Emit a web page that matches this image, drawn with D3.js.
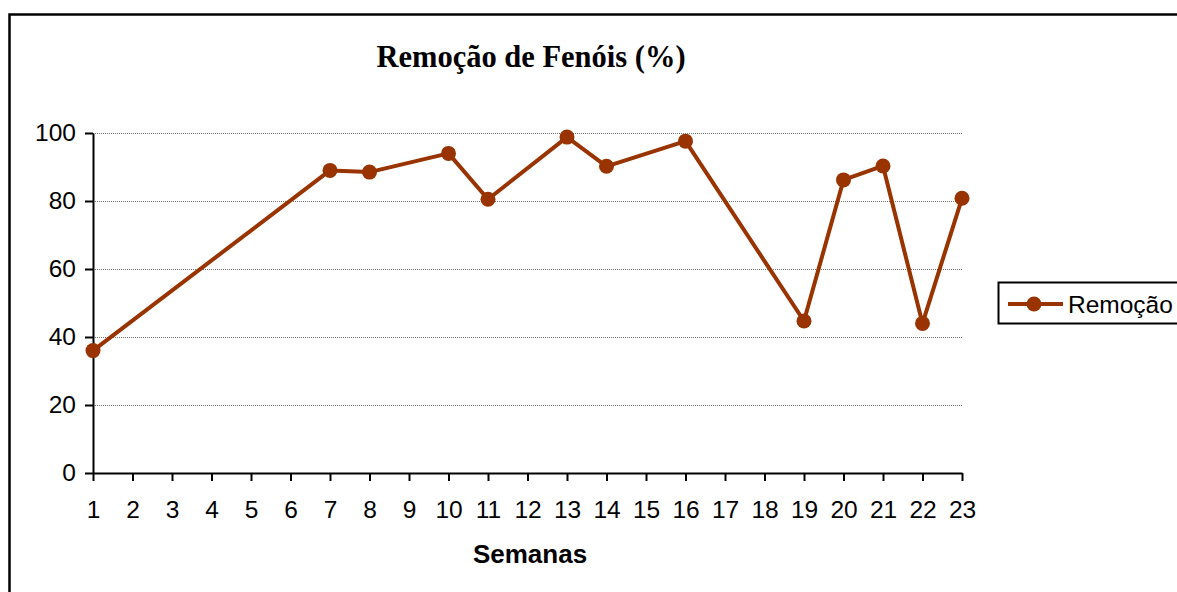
<!DOCTYPE html>
<html>
<head>
<meta charset="utf-8">
<script src="https://cdn.jsdelivr.net/npm/d3@7"></script>
<style>
  html, body { margin: 0; padding: 0; background: #fff; overflow: hidden; }
</style>
</head>
<body>
<div id="chart"></div>
<script>
// data
const weeks = d3.range(1, 24);
const semanas = [1, 7, 8, 10, 11, 13, 14, 16, 19, 20, 21, 22, 23];
const remocao = [36, 89, 88.5, 94, 80.5, 98.8, 90.2, 97.6, 44.7, 86.2, 90.3, 44, 80.8];
const yTicks = [0, 20, 40, 60, 80, 100];

const width = 1177;
const height = 592;
const plot = { left: 93, right: 962, top: 133, bottom: 473 };
const lineColor = "#993300";
const sans = "Liberation Sans, Arial, sans-serif";

const svg = d3.select("#chart").append("svg")
  .attr("width", width)
  .attr("height", height);

// outer chart border (runs off right and bottom)
svg.append("rect")
  .attr("x", 9.5).attr("y", 14.5)
  .attr("width", width + 20).attr("height", height + 20)
  .attr("fill", "none").attr("stroke", "#000").attr("stroke-width", 2.5);

const x = d3.scalePoint(weeks, [plot.left, plot.right]);
const y = d3.scaleLinear([0, 100], [plot.bottom, plot.top]);

// gridlines
svg.append("g")
  .selectAll("line")
  .data(yTicks.filter(d => d > 0))
  .join("line")
  .attr("x1", plot.left).attr("x2", plot.right)
  .attr("y1", d => y(d) + 0.5).attr("y2", d => y(d) + 0.5)
  .attr("stroke", "#777").attr("stroke-width", 1)
  .attr("stroke-dasharray", "1,1");

// y axis
const yAxis = svg.append("g")
  .attr("transform", `translate(${plot.left},0)`)
  .call(d3.axisLeft(y).tickValues(yTicks).tickSizeInner(8).tickSizeOuter(0).tickPadding(9));
yAxis.select(".domain").attr("stroke-width", 2);
yAxis.selectAll(".tick line").attr("stroke-width", 2);
yAxis.selectAll("text")
  .attr("font-family", sans)
  .attr("font-size", 24.5)
  .attr("fill", "#000");

// x axis
const xAxis = svg.append("g")
  .attr("transform", `translate(0,${plot.bottom})`)
  .call(d3.axisBottom(x).tickSizeInner(8).tickSizeOuter(0).tickPadding(20));
xAxis.select(".domain").attr("stroke-width", 2);
xAxis.selectAll(".tick line").attr("stroke-width", 2);
xAxis.selectAll("text")
  .attr("font-family", sans)
  .attr("font-size", 24.5)
  .attr("fill", "#000");

// series
const pts = semanas.map((s, i) => [s, remocao[i]]);
svg.append("path")
  .datum(pts)
  .attr("fill", "none")
  .attr("stroke", lineColor)
  .attr("stroke-width", 4)
  .attr("stroke-linejoin", "round")
  .attr("d", d3.line().x(d => x(d[0])).y(d => y(d[1])));

svg.append("g")
  .selectAll("circle")
  .data(pts)
  .join("circle")
  .attr("cx", d => x(d[0]))
  .attr("cy", d => y(d[1]))
  .attr("r", 7.5)
  .attr("fill", lineColor);

// title
svg.append("text")
  .attr("x", 531).attr("y", 67)
  .attr("text-anchor", "middle")
  .attr("font-family", "Liberation Serif, Times New Roman, serif")
  .attr("font-weight", "bold")
  .attr("font-size", 30.5)
  .text("Remoção de Fenóis (%)");

// x axis title
svg.append("text")
  .attr("x", 530).attr("y", 563)
  .attr("text-anchor", "middle")
  .attr("font-family", sans)
  .attr("font-weight", "bold")
  .attr("font-size", 26)
  .text("Semanas");

// legend
const leg = svg.append("g").attr("transform", "translate(998,282)");
leg.append("rect")
  .attr("x", 0.5).attr("y", 0.5)
  .attr("width", 200).attr("height", 41)
  .attr("fill", "#fff").attr("stroke", "#000").attr("stroke-width", 2);
leg.append("line")
  .attr("x1", 10).attr("x2", 65).attr("y1", 22).attr("y2", 22)
  .attr("stroke", lineColor).attr("stroke-width", 4);
leg.append("circle")
  .attr("cx", 36).attr("cy", 22).attr("r", 7.5).attr("fill", lineColor);
leg.append("text")
  .attr("x", 70).attr("y", 31)
  .attr("font-family", sans)
  .attr("font-size", 24.5)
  .text("Remoção");
</script>
</body>
</html>
